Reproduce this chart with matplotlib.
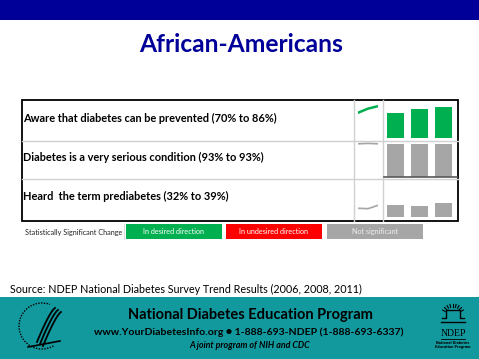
import numpy as np
import matplotlib
matplotlib.use('Agg')
import matplotlib.pyplot as plt
from matplotlib.patches import Rectangle, Arc

# Survey items and percentages (2006, 2008, 2011)
items = ['Aware that diabetes can be prevented (70% to 86%)',
         'Diabetes is a very serious condition (93% to 93%)',
         'Heard  the term prediabetes (32% to 39%)']
years = ['2006', '2008', '2011']
aware = [70, 80, 86]
serious = [93, 94, 93]
heard = [32, 31, 39]
row_values = [aware, serious, heard]
row_status = ['desired', 'none', 'none']

legend_labels = ['In desired direction', 'In undesired direction', 'Not significant']
legend_colors = ['#00B050', '#FF0000', '#A6A6A6']
status_color = {'desired': '#00B050', 'undesired': '#FF0000', 'none': '#A6A6A6'}

W, H = 479, 359
NAVY = '#000099'
TEAL = '#12999E'

fig = plt.figure(figsize=(W / 100, H / 100), dpi=100)
bg = fig.add_axes([0, 0, 1, 1])
bg.set_xlim(0, W)
bg.set_ylim(H, 0)
bg.axis('off')


def px_axes(x0, y0, x1, y1):
    ax = fig.add_axes([x0 / W, 1 - y1 / H, (x1 - x0) / W, (y1 - y0) / H])
    ax.patch.set_alpha(0)
    for s in ax.spines.values():
        s.set_visible(False)
    ax.set_xticks([])
    ax.set_yticks([])
    return ax


# header bar and title
bg.add_patch(Rectangle((0, 0), W, 20, color=NAVY, lw=0))
bg.text(241, 44, 'African-Americans', ha='center', va='center', color=NAVY,
        fontsize=17.7, fontweight='bold', family='Lato')

# table frame
x_left, x_right = 22, 458
row_tops = [100, 140.7, 179]
row_bottoms = [140.7, 179, 221]
col_spark, col_bar = 354, 383
grid_c = '#D0D0D0'
for y in row_tops[1:]:
    bg.plot([x_left, x_right], [y, y], color=grid_c, lw=1)
for x in [col_spark, col_bar]:
    bg.plot([x, x], [row_tops[0], row_bottoms[-1]], color=grid_c, lw=1)
bg.add_patch(Rectangle((x_left, row_tops[0]), x_right - x_left,
                       row_bottoms[-1] - row_tops[0], fill=False,
                       ec='black', lw=1.3))

label_y = [118, 157, 196]
baselines = [137.7, 177, 216.7]
for i, (label, vals, st) in enumerate(zip(items, row_values, row_status)):
    bg.text(23, label_y[i], label, ha='left', va='center', fontsize=7.9,
            fontweight='bold', family='Lato', color='black')
    c = status_color[st]

    # sparkline
    sp = px_axes(358, row_tops[i], 378, row_bottoms[i])
    sp.plot(range(len(vals)), vals, color=c, lw=1.8 if st == 'desired' else 1.2)
    sp.set_xlim(0, len(vals) - 1)
    sp.set_ylim(2, 101)

    # mini bars
    ba = px_axes(384, baselines[i] - 40, 455.5, baselines[i])
    ba.bar(range(len(vals)), vals, width=0.71, color=c)
    ba.set_xlim(-0.5, len(vals) - 0.5)
    ba.set_ylim(0, 112.7)
    if i == 1:
        ba.axhline(0, color='#595959', lw=1.2, xmin=-0.0, xmax=1.02, clip_on=False)

# legend
bg.text(25, 232, 'Statistically Significant Change', ha='left', va='center',
        fontsize=5.2, color='#222222', family='Lato')
bg.plot([124, 124], [224, 239], color='#DDDDDD', lw=0.8)
box_x = [126, 226, 327]
for bx, lab, col in zip(box_x, legend_labels, legend_colors):
    bg.add_patch(Rectangle((bx, 224), 96, 15, color=col, lw=0))
    bg.text(bx + 48, 231.5, lab, ha='center', va='center', fontsize=5.2,
            color='white' if col != '#A6A6A6' else '#EEEEEE', family='Lato')

# source
bg.text(10, 289, 'Source: NDEP National Diabetes Survey Trend Results (2006, 2008, 2011)',
        ha='left', va='center', fontsize=7.75, family='Lato', color='black')

# footer
bg.add_patch(Rectangle((0, 297), W, H - 297, color=TEAL, lw=0))
bg.text(250, 315, 'National Diabetes Education Program', ha='center', va='center',
        fontsize=10.5, fontweight='bold', family='Lato', color='black')
bg.text(249, 332, 'www.YourDiabetesInfo.org \u25CF 1-888-693-NDEP (1-888-693-6337)',
        ha='center', va='center', fontsize=7.55, fontweight='bold', family='Lato',
        color='black')
bg.text(250, 345, 'A joint program of NIH and CDC', ha='center', va='center',
        fontsize=6.4, fontweight='bold', style='italic', family='Lato', color='black')

# HHS logo (simplified)
bg.add_patch(Arc((42, 326), 46, 46, theta1=60, theta2=290, color='black',
                 lw=1.0, ls=(0, (1, 1))))
for k in range(3):
    t = np.linspace(0, 1, 20)
    xs = 55 - 18 * t + 3 * k
    ys = 308 + 34 * t ** 1.3 + 2 * k
    bg.plot(xs, ys, color='black', lw=1.3)
bg.plot([28, 60], [347, 341], color='black', lw=1.2)

# NDEP logo (simplified)
for a in np.linspace(30, 150, 9):
    r = np.deg2rad(a)
    bg.plot([453 + 9 * np.cos(r), 453 + 12 * np.cos(r)],
            [316 - 9 * np.sin(r), 316 - 12 * np.sin(r)], color='black', lw=0.8)
bg.plot([442, 446, 446, 460, 460, 464], [318, 318, 310, 310, 318, 318], color='black', lw=1)
bg.plot([441, 465], [322, 322], color='black', lw=1)
bg.text(453, 333, 'NDEP', ha='center', va='center', fontsize=7,
        family='Liberation Serif', color='black')
bg.plot([441, 465], [339, 339], color='black', lw=0.6)
bg.text(453, 343, 'National Diabetes', ha='center', va='center', fontsize=2.3,
        fontweight='bold', color='black')
bg.text(453, 347, 'Education Program', ha='center', va='center', fontsize=2.3,
        fontweight='bold', color='black')

fig.savefig('out.png', dpi=100)
